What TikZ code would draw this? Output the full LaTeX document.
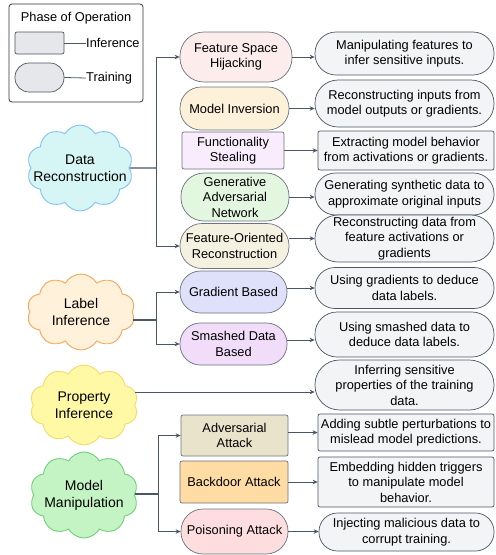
\documentclass[tikz,border=0pt]{standalone}
\usepackage{fontspec}
\setmainfont{Liberation Sans}
\usetikzlibrary{shapes.symbols,arrows.meta}

% palette
\definecolor{link}{HTML}{4B5563}
\definecolor{edge}{HTML}{6B7280}
\definecolor{descfill}{HTML}{F3F4F6}
\definecolor{legfill}{HTML}{E5E7EB}
\definecolor{drfill}{HTML}{D6F6F5}\definecolor{dredge}{HTML}{7FC3F5}
\definecolor{lifill}{HTML}{FFF1DA}\definecolor{liedge}{HTML}{F5A55A}
\definecolor{pifill}{HTML}{FFF9A6}\definecolor{piedge}{HTML}{F5D96A}
\definecolor{mmfill}{HTML}{C4F4C4}\definecolor{mmedge}{HTML}{6FD07A}
\definecolor{fshfill}{HTML}{FDECEC}
\definecolor{mifill}{HTML}{FDF1D9}
\definecolor{fsfill}{HTML}{F8ECFD}
\definecolor{ganfill}{HTML}{E3F7E0}
\definecolor{forfill}{HTML}{F5F1E1}
\definecolor{gbfill}{HTML}{DFE1FA}
\definecolor{sdbfill}{HTML}{F1DCFA}
\definecolor{aafill}{HTML}{E9E3CB}
\definecolor{bafill}{HTML}{FEDCA4}
\definecolor{pafill}{HTML}{FDDDDD}

\begin{document}
\begin{tikzpicture}[x=1pt,y=-1pt,
  base/.style={draw=edge, line width=0.7pt, align=center, inner sep=0pt,
    font=\fontsize{12.8}{15.5}\selectfont},
  pill/.style={base, rectangle, rounded corners=#1},
  boxed/.style={base, rectangle, rounded corners=2pt},
  desc/.style={fill=descfill, draw=link},
  cloudy/.style={cloud, cloud puffs=10, cloud puff arc=120, aspect=1.3,
    line width=0.9pt, inner sep=0pt},
  ctext/.style={align=center, inner sep=0pt, font=\fontsize{14}{17}\selectfont},
  arr/.style={draw=link, line width=0.8pt, -{Stealth[length=5pt,width=4.5pt]}},
  feed/.style={draw=link, line width=1.3pt},
  thin/.style={draw=link, line width=0.8pt},
  ltext/.style={anchor=west, inner sep=0pt, font=\fontsize{12.8}{15.5}\selectfont}]

\useasboundingbox (0,0) rectangle (496,555);

% legend
\node[draw=black!80, line width=0.8pt, rounded corners=3pt,
  minimum width=134pt, minimum height=98pt] (leg) at (76,53) {};
\node[inner sep=0pt, font=\fontsize{12.8}{15.5}\selectfont] (legt) at (76,18) {Phase of Operation};
\node[boxed, fill=legfill, draw=link, minimum width=49pt, minimum height=22pt] (lgi) at (39.5,43) {};
\node[pill=14pt, fill=legfill, draw=link, minimum width=49pt, minimum height=29pt] (lgt) at (39.5,77.5) {};
\node[ltext] (lgit) at (86,43) {Inference};
\node[ltext] (lgtt) at (86,78) {Training};
\draw[thin] (lgi.east) -- (lgit.west);
\draw[thin] (lgt.east) -- (lgtt.west);

% categories (cloud outlines, captions set on top)
\node[cloudy, draw=dredge, fill=drfill, minimum width=106pt, minimum height=86pt] (dr) at (80,168) {};
\node[ctext] (drt) at (dr.center) {Data\\Reconstruction};
\node[cloudy, draw=liedge, fill=lifill, minimum width=108pt, minimum height=76pt] (li) at (81,312) {};
\node[ctext] (lit) at (li.center) {Label\\Inference};
\node[cloudy, draw=piedge, fill=pifill, minimum width=108pt, minimum height=80pt] (pi) at (84,405) {};
\node[ctext] (pit) at (pi.center) {Property\\Inference};
\node[cloudy, draw=mmedge, fill=mmfill, minimum width=108pt, minimum height=86pt] (mm) at (84,495) {};
\node[ctext] (mmt) at (mm.center) {Model\\Manipulation};

% attack types
\node[pill=24pt, fill=fshfill, minimum width=112pt, minimum height=50pt] (fsh) at (236,57) {Feature Space\\Hijacking};
\node[pill=21pt, fill=mifill, minimum width=109pt, minimum height=43pt] (mi) at (234.5,108.5) {Model Inversion};
\node[boxed, fill=fsfill, minimum width=102pt, minimum height=37pt] (fs) at (233,150.5) {Functionality\\Stealing};
\node[pill=23pt, fill=ganfill, minimum width=108pt, minimum height=48pt] (gan) at (235,197) {Generative\\Adversarial\\Network};
\node[pill=22pt, fill=forfill, minimum width=109pt, minimum height=45pt] (for) at (234.5,246) {Feature-Oriented\\Reconstruction};
\node[pill=20.5pt, fill=gbfill, minimum width=107pt, minimum height=42pt] (gb) at (233.5,292) {Gradient Based};
\node[pill=20.5pt, fill=sdbfill, minimum width=107pt, minimum height=42pt] (sdb) at (233.5,344) {Smashed Data\\Based};
\node[boxed, fill=aafill, minimum width=107pt, minimum height=41pt] (aa) at (234.5,435.5) {Adversarial\\Attack};
\node[boxed, fill=bafill, minimum width=108pt, minimum height=42pt] (ba) at (234,482) {Backdoor Attack};
\node[pill=22pt, fill=pafill, minimum width=107pt, minimum height=45pt] (pa) at (234.5,531.5) {Poisoning Attack};

% descriptions
\node[pill=21pt, desc, minimum width=179pt, minimum height=43pt] (d1) at (404.5,53.5) {Manipulating features to\\infer sensitive inputs.};
\node[pill=23pt, desc, minimum width=179pt, minimum height=47pt] (d2) at (404.5,103.5) {Reconstructing inputs from\\model outputs or gradients.};
\node[boxed, desc, minimum width=176pt, minimum height=39pt] (d3) at (406,150.5) {Extracting model behavior\\from activations or gradients.};
\node[pill=20.5pt, desc, minimum width=179pt, minimum height=42pt] (d4) at (404.5,194) {Generating synthetic data to\\approximate original inputs};
\node[pill=23pt, desc, minimum width=179pt, minimum height=47pt] (d5) at (404.5,238.5) {Reconstructing data from\\feature activations or\\gradients};
\node[pill=20pt, desc, minimum width=179pt, minimum height=41pt] (d6) at (404.5,288) {Using gradients to deduce\\data labels.};
\node[pill=22pt, desc, minimum width=179pt, minimum height=45pt] (d7) at (404.5,334.5) {Using smashed data to\\deduce data labels.};
\node[pill=24.5pt, desc, minimum width=179pt, minimum height=50pt] (d8) at (404.5,385) {Inferring sensitive\\properties of the training\\data.};
\node[boxed, desc, minimum width=176pt, minimum height=37pt] (d9) at (406,432.5) {Adding subtle perturbations to\\mislead model predictions.};
\node[boxed, desc, minimum width=176pt, minimum height=50pt] (d10) at (406,482) {Embedding hidden triggers\\to manipulate model\\behavior.};
\node[pill=18.5pt, desc, minimum width=175pt, minimum height=38pt] (d11) at (406.5,532) {Injecting malicious data to\\corrupt training.};

% category fan-outs
\coordinate (drj) at (156,168);
\draw[feed] (dr.east) -- (drj);
\draw[arr] (drj) |- (fsh.west);
\draw[arr] (drj) |- (for.west);

\coordinate (lij) at (156,320);
\draw[feed] (li.east |- lij) -- (lij);
\draw[arr] (lij) |- (gb.west);
\draw[arr] (lij) |- (sdb.west);

\coordinate (pij) at (0,392);
\draw[arr] (pi.east |- pij) -- (d8.west |- pij);

\coordinate (mmj) at (158,494);
\draw[feed] (mm.east |- mmj) -- (mmj);
\draw[arr] (mmj) |- (aa.west);
\draw[arr] (mmj) |- (pa.west);

% type to description
\draw[arr] (fsh.east) -- (fsh.east -| d1.west);
\draw[arr] (mi.east) -- (mi.east -| d2.west);
\draw[arr] (fs.east) -- (fs.east -| d3.west);
\draw[arr] (gan.east) -- (gan.east -| d4.west);
\draw[arr] (d5.west -| for.east) -- (d5.west);
\draw[arr] (d6.west -| gb.east) -- (d6.west);
\draw[arr] ([yshift=4pt]sdb.east) -- ([yshift=4pt]sdb.east -| d7.west);
\draw[arr] (d9.west -| aa.east) -- (d9.west);
\draw[arr] (ba.east) -- (ba.east -| d10.west);
\draw[arr] (pa.east) -- (pa.east -| d11.west);
\end{tikzpicture}
\end{document}
